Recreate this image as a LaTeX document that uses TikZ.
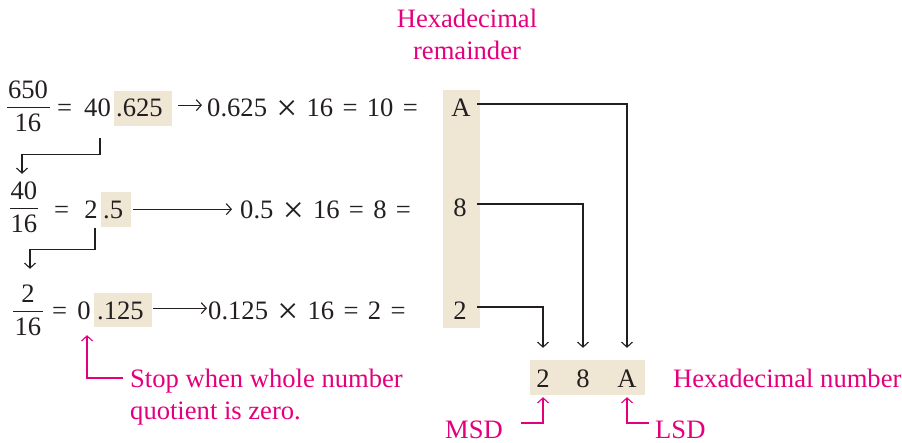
\documentclass[tikz,border=0pt]{standalone}
\usepackage{fontspec}
\setmainfont{Liberation Serif}
\usetikzlibrary{arrows.meta}
\definecolor{ink}{HTML}{231F20}
\definecolor{mag}{HTML}{E4007C}
\definecolor{beige}{HTML}{EFE7D4}
\newcommand{\bigfs}{\fontsize{26.6}{31}\selectfont}
\newcommand{\gp}{\hspace{0.35em}}
\newcommand{\tms}{\raisebox{-0.12em}{\scalebox{1.4}{×}}}
\tikzset{
  t/.style={font=\bigfs, text=ink, inner sep=0pt, text height=18pt, text depth=6pt},
  p/.style={font=\bigfs, text=mag, inner sep=0pt, text height=18pt, text depth=6pt},
  hl/.style={fill=beige, draw=none, inner sep=0pt},
  arr/.style={draw=ink, line width=1.1pt, -{Straight Barb[length=5pt,width=11pt]}},
  parr/.style={draw=mag, line width=1.1pt, -{Straight Barb[length=5pt,width=11pt]}},
  fbar/.style={draw=ink, line width=1pt},
}
\begin{document}
\begin{tikzpicture}[x=1pt,y=-1pt]
\useasboundingbox (0,0) rectangle (902,443);
% ---------- highlight backgrounds
\node[hl, anchor=north west, minimum width=37pt, minimum height=238pt] (col) at (443,90) {};
\node[hl, anchor=north west, minimum width=58pt, minimum height=35pt] (h1) at (114,91) {};
\node[hl, anchor=north west, minimum width=30pt, minimum height=35pt] (h2) at (101,192) {};
\node[hl, anchor=north west, minimum width=58pt, minimum height=34pt] (h3) at (94,293) {};
\node[hl, anchor=north west, minimum width=115pt, minimum height=35pt] (bbox) at (530,360) {};
% ---------- header
\node[p, anchor=base] (hd1) at (467,28) {Hexadecimal};
\node[p, anchor=base] (hd2) at (467,60) {remainder};
% ---------- row 1
\node[t, anchor=base] (f1n) at (28,99) {650};
\node[t, anchor=base] (f1d) at (28,132) {16};
\draw[fbar] (7,108) coordinate (f1a) -- (50,108) coordinate (f1b);
\node[t, anchor=base west] (e1) at (57,117) {=};
\node[t, anchor=base] (n40) at (97.5,117) {40};
\node[t, anchor=base west] (d1) at (116,117) {.625};
\node[t, anchor=base west] (eq1) at (207,117) {0.625\gp\tms\gp16\gp{}=\gp{}10\gp{}=};
% ---------- row 2
\node[t, anchor=base] (f2n) at (24,200) {40};
\node[t, anchor=base] (f2d) at (24,233) {16};
\draw[fbar] (10,209) coordinate (f2a) -- (38,209) coordinate (f2b);
\node[t, anchor=base west] (e2) at (54,219) {=};
\node[t, anchor=base] (n2) at (91,219) {2};
\node[t, anchor=base west] (d2) at (103,219) {.5};
\node[t, anchor=base west] (eq2) at (240,219) {0.5\gp\tms\gp16\gp{}=\gp{}8\gp{}=};
% ---------- row 3
\node[t, anchor=base] (f3n) at (28,303) {2};
\node[t, anchor=base] (f3d) at (28,336) {16};
\draw[fbar] (13,312) coordinate (f3a) -- (43,312) coordinate (f3b);
\node[t, anchor=base west] (e3) at (52,320) {=};
\node[t, anchor=base] (z0) at (84,320) {0};
\node[t, anchor=base west] (d3) at (97,320) {.125};
\node[t, anchor=base west] (eq3) at (208,320) {0.125\gp\tms\gp16\gp{}=\gp{}2\gp{}=};
% ---------- remainder column
\node[t, anchor=base, minimum width=20pt] (cA) at (461,117) {A};
\node[t, anchor=base, minimum width=20pt] (c8) at (460,217) {8};
\node[t, anchor=base, minimum width=20pt] (c2) at (460,320) {2};
% ---------- result
\node[t, anchor=base] (b2) at (543,388) {2};
\node[t, anchor=base] (b8) at (583,388) {8};
\node[t, anchor=base] (bA) at (627,388) {A};
\node[p, anchor=base west] (hn) at (673,388) {Hexadecimal number};
\node[p, anchor=base west, text depth=2pt] (msd) at (445,438) {MSD};
\node[p, anchor=base west, text depth=2pt] (lsd) at (655,438) {LSD};
\node[p, anchor=base west] (stop1) at (130,388) {Stop when whole number};
\node[p, anchor=base west] (stop2) at (130,419) {quotient is zero.};
% ---------- connectors: row arrows
\draw[arr, shorten <=6pt, shorten >=5pt] ([yshift=3.5pt]h1.east) -- ([yshift=3.5pt]h1.east -| eq1.west);
\draw[arr, shorten <=2pt, shorten >=8pt] ([yshift=0.5pt]h2.east) -- ([yshift=0.5pt]h2.east -| eq2.west);
\draw[arr, shorten <=1pt, shorten >=1pt] ([yshift=2pt]h3.east) -- ([yshift=2pt]h3.east -| eq3.west);
% ---------- connectors: quotient carried down
\draw[arr, shorten >=8pt] ([xshift=2.5pt,yshift=-15pt]n40.south) -- ++(0,16) -| ([xshift=-2pt]f2n.north);
\draw[arr, shorten >=16pt] ([xshift=4pt,yshift=-3pt]n2.south) -- ++(0,21) -| ([xshift=2pt]f3n.north);
% ---------- connectors: remainders to result
\draw[arr, shorten >=22pt] ([xshift=6pt,yshift=7pt]cA.east) -| (bA.north);
\draw[arr, shorten >=22pt] ([xshift=7pt,yshift=7pt]c8.east) -| (b8.north);
\draw[arr, shorten >=22pt] ([xshift=7pt,yshift=7pt]c2.east) -| (b2.north);
% ---------- pink callouts
\draw[parr] ([xshift=-7pt,yshift=4pt]stop1.west) -| ([xshift=3pt,yshift=-9pt]z0.south);
\draw[parr] ([xshift=18pt,yshift=7pt]msd.east) -| ([yshift=-3pt]b2.south);
\draw[parr] ([xshift=-6pt,yshift=7pt]lsd.west) -| ([yshift=-3pt]bA.south);
\end{tikzpicture}
\end{document}
